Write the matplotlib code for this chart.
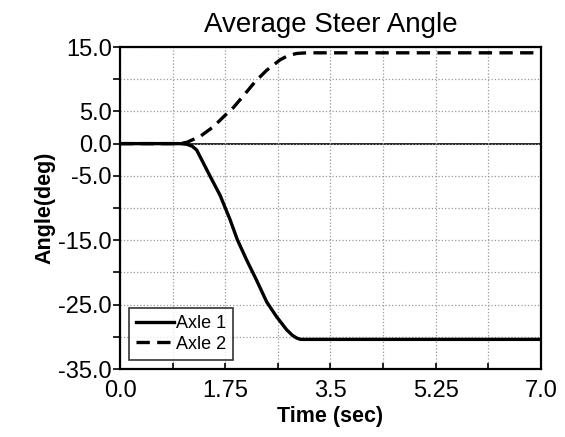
import numpy as np
import matplotlib.pyplot as plt

# Data
time_axle1 = [0.0, 0.5, 1.0, 1.11, 1.2, 1.275, 1.385, 1.50, 1.663, 1.83, 1.95, 2.107, 2.27, 2.44, 2.605, 2.77, 2.87, 2.94, 3.0, 3.5, 4.0, 5.0, 6.0, 7.0]
angle_axle1 = [0.0, 0.0, 0.0, -0.1, -0.4, -1.0, -3.0, -5.1, -8.0, -11.8, -14.9, -18.1, -21.2, -24.6, -26.9, -28.9, -29.8, -30.2, -30.4, -30.4, -30.4, -30.4, -30.4, -30.4]

time_axle2 = [0.0, 0.5, 1.0, 1.11, 1.33, 1.55, 1.77, 1.885, 2.05, 2.245, 2.44, 2.66, 2.80, 2.94, 3.1, 3.5, 4.0, 5.0, 6.0, 7.0]
angle_axle2 = [0.0, 0.0, 0.0, 0.2, 1.1, 2.6, 4.6, 5.6, 7.4, 9.6, 11.4, 13.0, 13.7, 14.0, 14.1, 14.1, 14.1, 14.1, 14.1, 14.1]

xticks = [0.0, 0.875, 1.75, 2.625, 3.5, 4.375, 5.25, 6.125, 7.0]
xtick_labels = ['0.0', '', '1.75', '', '3.5', '', '5.25', '', '7.0']
yticks = [15, 10, 5, 0, -5, -10, -15, -20, -25, -30, -35]
ytick_labels = ['15.0', '', '5.0', '0.0', '-5.0', '', '-15.0', '', '-25.0', '', '-35.0']

plt.rcParams['font.family'] = ['Liberation Sans', 'DejaVu Sans']

fig = plt.figure(figsize=(5.65, 4.37), dpi=100)
ax = fig.add_axes([0.2124, 0.1556, 0.7451, 0.7368])

ax.grid(True, color='#999999', linestyle=':', linewidth=0.9)
ax.axhline(0, color='black', linewidth=1.2, zorder=1)

ax.plot(time_axle1, angle_axle1, color='black', linewidth=2.4, label='Axle 1', zorder=3)
ax.plot(time_axle2, angle_axle2, color='black', linewidth=2.4, linestyle=(0, (4, 2.2)), label='Axle 2', zorder=3)

ax.set_xlim(0, 7)
ax.set_ylim(-35, 15)
ax.set_xticks(xticks)
ax.set_xticklabels(xtick_labels)
ax.set_yticks(yticks)
ax.set_yticklabels(ytick_labels)
ax.tick_params(axis='y', labelsize=17, length=5, width=1.2, direction='out', pad=1)
ax.tick_params(axis='x', labelsize=17, length=4, width=1.2, direction='in', pad=8)

for s in ax.spines.values():
    s.set_linewidth(1.6)

ax.set_title('Average Steer Angle', fontsize=20, pad=11)
ax.set_xlabel('Time (sec)', fontsize=15.5, fontweight='bold', labelpad=3)
ax.set_ylabel('Angle(deg)', fontsize=15.5, fontweight='bold', labelpad=2)

leg = ax.legend(loc='lower left', fontsize=13, frameon=True, fancybox=False,
                handlelength=2.1, handletextpad=0.1, borderpad=0.4, labelspacing=0.2,
                borderaxespad=0.5)
leg.get_frame().set_edgecolor('black')
leg.get_frame().set_linewidth(1.2)

plt.savefig('out.png', dpi=100)
